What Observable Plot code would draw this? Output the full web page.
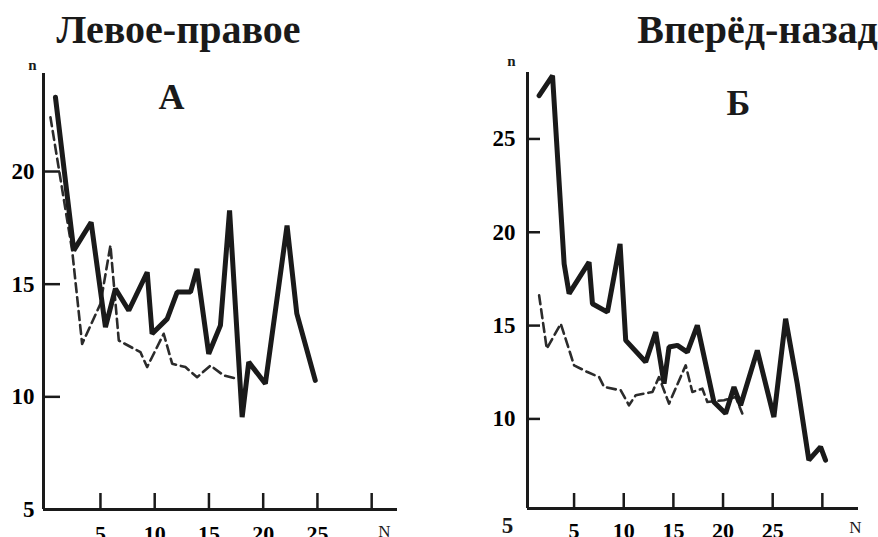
<!DOCTYPE html>
<html><head><meta charset="utf-8">
<script src="https://cdn.jsdelivr.net/npm/d3@7"></script>
<script src="https://cdn.jsdelivr.net/npm/@observablehq/plot@0.6"></script>
<style>
body{margin:0;background:#fff;overflow:hidden}
#chart{width:878px}
</style></head><body>
<div id="chart"></div>
<script>
const titles = ["Левое-правое", "Вперёд-назад"];
const panelLabels = ["А", "Б"];
const xTicks = [5, 10, 15, 20, 25, 30];
const xTickLabels = [5, 10, 15, 20, 25];
const yTicksA = [5, 10, 15, 20];
const yTicksB = [10, 15, 20, 25];
const yLowB = [5];

const solidA_N = [0.85, 2.54, 4.14, 5.46, 6.38, 7.61, 9.31, 9.76, 11.15, 12.07, 13.3, 13.9, 14.98, 16.06, 16.9, 18.06, 18.67, 20.2, 22.2, 23.1, 24.8];
const solidA_n = [23.3, 16.5, 17.75, 13.09, 14.8, 13.83, 15.53, 12.8, 13.46, 14.65, 14.65, 15.68, 11.91, 13.17, 18.27, 9.1, 11.54, 10.58, 17.6, 13.69, 10.73];
const dashedA_N = [0.39, 2.39, 3.31, 5.0, 5.92, 6.69, 8.69, 9.3, 10.83, 11.61, 12.83, 13.91, 15.14, 16.36, 17.6];
const dashedA_n = [22.41, 16.5, 12.35, 14.13, 16.72, 12.5, 11.98, 11.32, 12.8, 11.47, 11.32, 10.87, 11.39, 10.95, 10.8];

const solidB_N = [1.48, 2.83, 4.0, 4.5, 6.51, 6.85, 8.36, 9.63, 10.2, 12.21, 13.22, 14.06, 14.56, 15.4, 16.4, 17.41, 19.08, 20.26, 21.1, 21.77, 23.45, 25.12, 26.3, 27.47, 28.64, 29.82, 30.32];
const solidB_n = [27.32, 28.39, 18.31, 16.71, 18.4, 16.17, 15.72, 19.38, 14.21, 13.05, 14.65, 11.89, 13.85, 13.94, 13.58, 15.01, 10.91, 10.29, 11.71, 10.73, 13.67, 10.1, 15.37, 11.89, 7.79, 8.5, 7.79];
const dashedB_N = [1.48, 2.25, 3.66, 5.0, 6.35, 7.52, 8.02, 9.7, 10.53, 11.21, 12.89, 13.55, 14.56, 16.24, 16.91, 17.92, 18.42, 20.09, 21.27, 21.94];
const dashedB_n = [16.62, 13.76, 15.1, 12.87, 12.51, 12.24, 11.71, 11.53, 10.73, 11.27, 11.44, 12.24, 10.82, 12.87, 11.44, 11.62, 10.91, 11.0, 11.17, 10.29];

const zipRows = (xs, ys) => xs.map((N, i) => ({N, n: ys[i]}));
const font = "Liberation Serif";
const ink = "#1a1a1a";

function panel(o) {
  const txt = {fontFamily: font, fill: ink, textAnchor: "middle", lineAnchor: "middle"};
  const marks = [
    Plot.ruleY([o.yDomain[0]], {stroke: ink, strokeWidth: 3}),
    Plot.ruleX([o.xDomain[0]], {stroke: ink, strokeWidth: 3}),
    Plot.axisX(xTicks, {tickSize: -o.xTickLen, tickPadding: o.xTickLen + o.xPad, label: null,
      tickFormat: d => xTickLabels.includes(d) ? String(d) : "",
      stroke: ink, strokeWidth: 2.5, fontSize: 22, fontWeight: "bold", fontFamily: font}),
    Plot.axisY(o.yTicks, {tickSize: -o.yTickLen, tickPadding: o.yTickLen + o.yPad, label: null,
      stroke: ink, strokeWidth: 2.5, fontSize: 23, fontWeight: "bold", fontFamily: font}),
    Plot.line(o.dashed, {x: "N", y: "n", stroke: "#2b2b2b", strokeWidth: 2.6, strokeDasharray: "9,5", strokeLinejoin: "round"}),
    Plot.line(o.solid, {x: "N", y: "n", stroke: ink, strokeWidth: 5, strokeLinejoin: "miter"}),
    Plot.text(["n"], {frameAnchor: "top-left", dx: o.nDx, dy: o.nDy, fontSize: 15, fontWeight: "bold", ...txt}),
    Plot.text(["N"], {frameAnchor: "bottom-right", dx: o.NDx, dy: o.NDy, fontSize: 17, ...txt}),
    Plot.text([o.label], {frameAnchor: "top-left", dx: o.labelDx, dy: o.labelDy, fontSize: 36, fontWeight: "bold", ...txt}),
    Plot.text([o.title], {frameAnchor: "top-left", dx: o.titleDx, dy: o.titleDy, fontSize: 40, fontWeight: "bold", ...txt, lineAnchor: "bottom"})
  ];
  if (o.low) marks.push(Plot.text(o.low, {y: d => d, text: d => String(d), frameAnchor: "left", dx: o.lowDx, dy: o.lowDy, fontSize: 23, fontWeight: "bold", ...txt}));
  return Plot.plot({
    width: o.width, height: o.height,
    marginLeft: o.marginLeft, marginRight: o.marginRight, marginTop: o.marginTop, marginBottom: o.marginBottom,
    x: {domain: o.xDomain},
    y: {domain: o.yDomain},
    marks
  });
}

const svgA = panel({
  width: 440, height: 537, marginLeft: 43, marginRight: 43, marginTop: 73, marginBottom: 28,
  xDomain: [-0.25, 32.38], yDomain: [5, 24.35],
  yTicks: yTicksA, xTickLen: 16, yTickLen: 17, xPad: 16, yPad: 9,
  solid: zipRows(solidA_N, solidA_n), dashed: zipRows(dashedA_N, dashedA_n),
  title: titles[0], titleDx: 135, titleDy: -31,
  label: panelLabels[0], labelDx: 128, labelDy: 24,
  nDx: -11, nDy: -8, NDx: -13, NDy: 22
});

const svgB = panel({
  width: 438, height: 537, marginLeft: 87, marginRight: 20, marginTop: 72, marginBottom: 29,
  xDomain: [0.31, 33.64], yDomain: [5.2, 28.56],
  yTicks: yTicksB, xTickLen: 15, yTickLen: 13, xPad: 14, yPad: 12,
  solid: zipRows(solidB_N, solidB_n), dashed: zipRows(dashedB_N, dashedB_n),
  title: titles[1], titleDx: 230, titleDy: -30,
  label: panelLabels[1], labelDx: 211, labelDy: 31,
  nDx: -16, nDy: -11, NDx: -3, NDy: 19,
  low: yLowB, lowDx: -20, lowDy: 13
});

// Combine both panels into a single SVG
svgA.setAttribute("width", 878);
svgA.setAttribute("viewBox", "0 0 878 537");
const gB = document.createElementNS("http://www.w3.org/2000/svg", "g");
gB.setAttribute("transform", "translate(440,0)");
for (const child of [...svgB.childNodes]) {
  if (child.nodeName.toLowerCase() !== "style") gB.appendChild(child);
}
svgA.appendChild(gB);
document.getElementById("chart").append(svgA);
</script>
</body></html>
